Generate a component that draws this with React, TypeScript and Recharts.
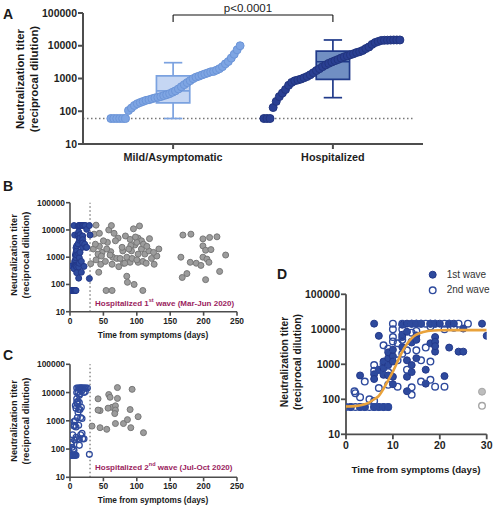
import React from "react";
import {
  ComposedChart,
  Scatter,
  Line,
  XAxis,
  YAxis,
  ReferenceLine,
  ReferenceArea,
} from "recharts";

// --- panel A: sorted titers per group ---
const groups = ["Mild/Asymptomatic", "Hospitalized"];
const mildTiters = [
  60, 60, 60, 60, 60, 60, 105, 125, 150, 170, 185, 200, 215, 225, 240, 255, 265,
  280, 300, 320, 345, 380, 420, 480, 560, 650, 750, 860, 990, 1100, 1180, 1280,
  1380, 1480, 1600, 1650, 1800, 2000, 2300, 2800, 3300, 4200, 5500, 7500, 10000,
];
const hospTiters = [
  60, 60, 60, 130, 200, 280, 360, 460, 620, 760, 850, 900, 960, 1050, 1150, 1300,
  1500, 1750, 2000, 2300, 2600, 2900, 3200, 3500, 3800, 4200, 4600, 4900, 5300,
  5700, 6200, 6600, 7200, 8200, 9200, 11000, 12500, 13500, 14500, 14700, 14800,
  14900, 15000, 15000, 15000,
];
// min, q1, median, q3, max
const mildBox = [60, 180, 420, 1200, 3040];
const hospBox = [260, 945, 3250, 6900, 15000];
const pValue = "p<0.0001";
const detectionLimit = 60;

// --- panels B-D: [days, titer] ---
const wave1 = [
  [1, 60], [3, 60], [4, 60], [6, 60], [7, 60], [8, 60], [9, 60],
  [3, 480], [6, 520], [6, 380], [6, 14500], [7, 6500],
  [7, 700], [8, 780], [8, 1200], [8, 500], [9, 1500], [9, 2200], [9, 480], [9, 950],
  [10, 1700], [10, 1200], [10, 440], [10, 270], [10, 2600],
  [12, 3100], [12, 6000], [12, 13500], [12, 7000],
  [13, 1300], [13, 440], [13, 170], [13, 14500], [13, 8500],
  [14, 950], [14, 600], [14, 4200], [14, 14500],
  [15, 14500], [15, 6700], [15, 1500], [15, 5000],
  [16, 14500], [17, 700], [17, 280], [18, 4000], [18, 14500],
  [19, 14500], [19, 6000], [19, 4400], [19, 2300], [19, 3300],
  [20, 14500], [21, 460], [22, 14500], [22, 3000], [23, 14500], [24, 2300],
  [25, 2300], [25, 10500], [29, 14500], [30, 6500],
];
const wave2 = [
  [0, 60], [1, 60], [2, 60], [3, 60], [4, 60], [5, 60], [6, 60], [7, 60], [8, 60], [9, 60],
  [2, 150], [1.8, 170], [3, 115], [4, 320], [5, 100], [6, 90],
  [6, 950], [6, 650], [7, 690], [7, 210], [8, 3500], [8, 1000], [9, 2800], [9, 260], [9, 600],
  [10, 14500], [10, 10000], [10, 6000], [10, 4500], [11, 4000], [11, 230], [11, 1300],
  [12, 14500], [12, 10000], [12, 2000], [12, 5000], [13, 2500], [13, 700],
  [14, 14500], [14, 4400], [14, 220], [14, 135], [14, 8000],
  [15, 2500], [15, 14500], [15, 9000], [16, 1300], [16, 320], [16, 14500],
  [17, 14500], [17, 3000], [18, 14500], [18, 1200], [18, 360], [18, 12000],
  [19, 230], [19, 14500], [21, 14500], [21, 230], [21, 10000], [22, 14500],
  [23, 11000], [24, 14500], [26, 14500],
];
const wave1Excluded = [[29, 165]];
const wave2Excluded = [[29, 65]];
const late1 = [
  [39, 15000], [36, 7000], [44, 7500], [58, 10000], [62, 14500], [66, 7500], [72, 5000],
  [83, 6000], [90, 4500], [95, 11000], [104, 14000], [102, 5000], [107, 4000], [119, 4800],
  [35, 2000], [44, 2500], [56, 3500], [61, 1600], [64, 1000], [70, 900], [79, 1700],
  [85, 1000], [92, 1700], [97, 2800], [91, 2700], [102, 1300], [107, 2000], [112, 1300],
  [118, 1700], [122, 900], [130, 1100], [133, 2000],
  [31, 580], [39, 800], [46, 550], [53, 700], [63, 550], [73, 450], [80, 600], [90, 650],
  [102, 650], [109, 700], [114, 600], [126, 550], [43, 280], [85, 200], [86, 120],
  [96, 100], [54, 60], [63, 60], [109, 60],
  [48, 1500], [42, 1300], [38, 3000], [50, 4000], [100, 3500], [68, 4000], [75, 900],
  [47, 1100], [55, 2000], [88, 2000], [93, 900], [98, 5500], [110, 3000], [115, 2500],
  [125, 1500], [100, 800], [82, 600], [60, 1200], [78, 2300],
  [169, 6500], [181, 7000], [166, 1000], [180, 650], [189, 600], [196, 500], [175, 250],
  [168, 180], [199, 4700], [209, 5300], [220, 5600], [199, 2600], [203, 1800], [211, 1900],
  [199, 1000], [205, 850], [208, 650], [233, 1200], [224, 300], [203, 150],
];
const late2 = [
  [71, 15000], [93, 13000], [42, 6000], [58, 8500], [60, 6800], [71, 6200], [63, 3000],
  [68, 3400], [57, 2800], [45, 2300], [42, 2400], [68, 2400], [67, 1800], [45, 570],
  [55, 500], [33, 650], [68, 800], [80, 800], [86, 1100], [91, 570], [102, 1400],
  [90, 2500], [110, 380],
];
// fitted sigmoid
const fitCurve = [
  [0, 62], [2, 64], [4, 72], [5, 82], [6, 100], [7, 125], [8, 200], [9, 350], [10, 620],
  [11, 1200], [12, 2300], [13, 3800], [14, 5500], [15, 7000], [16, 8000], [17, 8700],
  [18, 9100], [20, 9400], [22, 9500], [25, 9500], [30, 9500],
];

const LOG_TICKS = [10, 100, 1000, 10000, 100000];
const W = 496;
const H = 507;
const FONT = "'Liberation Sans', Arial, sans-serif";
const AXIS = "#4d4d4d";
const NAVY = "#2E4A9D";
const NAVY_EDGE = "#23388A";
const MAROON = "#9B1D5E";

const pts = (arr: number[][]) => arr.map(([x, y]) => ({ x, y }));
const rankPts = (titers: number[], start: number, end: number) =>
  titers.map((y, i) => ({ x: start + (i * (end - start)) / (titers.length - 1), y }));

const dot = (r: number, fill: string, stroke: string, sw = 1) => (p: any) =>
  <circle cx={p.cx} cy={p.cy} r={r} fill={fill} stroke={stroke} strokeWidth={sw} />;

const tickStyle = (size: number) => ({
  fill: "#1e1e1e",
  fontSize: size,
  fontWeight: 700,
  fontFamily: FONT,
});

const CENTERS = [26.5, 73.5];
const HALF = 4.9;
const CAP = 2.7;

function renderBox(cx: number, stats: number[], fill: string, stroke: string, key: string) {
  const [lo, q1, med, q3, hi] = stats;
  const ls = { stroke, strokeWidth: 1.7 };
  return [
    <ReferenceLine key={key + "w1"} segment={[{ x: cx, y: lo }, { x: cx, y: q1 }]} {...ls} />,
    <ReferenceLine key={key + "w2"} segment={[{ x: cx, y: q3 }, { x: cx, y: hi }]} {...ls} />,
    <ReferenceLine key={key + "c1"} segment={[{ x: cx - CAP, y: lo }, { x: cx + CAP, y: lo }]} {...ls} />,
    <ReferenceLine key={key + "c2"} segment={[{ x: cx - CAP, y: hi }, { x: cx + CAP, y: hi }]} {...ls} />,
    <ReferenceArea
      key={key + "b"}
      x1={cx - HALF}
      x2={cx + HALF}
      y1={q1}
      y2={q3}
      fill={fill}
      fillOpacity={0.68}
      stroke={stroke}
      strokeWidth={1.7}
    />,
    <ReferenceLine key={key + "m"} segment={[{ x: cx - HALF, y: med }, { x: cx + HALF, y: med }]} {...ls} />,
  ];
}

const abs: React.CSSProperties = { position: "absolute", left: 0, top: 0 };

function Txt({ x, y, size, bold = true, color = "#1a1a1a", rotate = false, align = "center", children }: any) {
  const tx = align === "left" ? "0" : "-50%";
  return (
    <div
      style={{
        position: "absolute",
        left: x,
        top: y,
        transform: `translate(${tx},-50%)${rotate ? " rotate(-90deg)" : ""}`,
        fontSize: size,
        fontWeight: bold ? 700 : 400,
        color,
        whiteSpace: "nowrap",
        textAlign: "center",
        lineHeight: 1.25,
        fontFamily: FONT,
      }}
    >
      {children}
    </div>
  );
}

function PanelA() {
  return (
    <div style={abs}>
      <ComposedChart width={W} height={H} margin={{ top: 13, right: 73, bottom: 333, left: 33 }}>
        <XAxis
          type="number"
          dataKey="x"
          domain={[0, 100]}
          ticks={CENTERS}
          interval={0}
          allowDataOverflow
          height={30}
          tickSize={5}
          tickMargin={4}
          tickFormatter={(v: number) => (v < 50 ? groups[0] : groups[1])}
          axisLine={{ stroke: AXIS, strokeWidth: 2 }}
          tickLine={{ stroke: AXIS, strokeWidth: 2 }}
          tick={tickStyle(10.8)}
        />
        <YAxis
          type="number"
          dataKey="y"
          scale="log"
          domain={[10, 100000]}
          ticks={LOG_TICKS}
          interval={0}
          allowDataOverflow
          width={50}
          tickSize={5}
          tickMargin={1}
          axisLine={{ stroke: AXIS, strokeWidth: 2 }}
          tickLine={{ stroke: AXIS, strokeWidth: 2 }}
          tick={tickStyle(10.5)}
        />
        <ReferenceLine
          segment={[{ x: 0, y: detectionLimit }, { x: 97, y: detectionLimit }]}
          stroke="#777"
          strokeDasharray="1.5 2.5"
          strokeWidth={1.3}
        />
        <ReferenceLine segment={[{ x: CENTERS[0], y: 53000 }, { x: CENTERS[0], y: 87000 }]} stroke="#111" strokeWidth={1.1} />
        <ReferenceLine segment={[{ x: CENTERS[0], y: 87000 }, { x: CENTERS[1], y: 87000 }]} stroke="#111" strokeWidth={1.1} />
        <ReferenceLine segment={[{ x: CENTERS[1], y: 53000 }, { x: CENTERS[1], y: 87000 }]} stroke="#111" strokeWidth={1.1} />
        <Scatter data={rankPts(mildTiters, 8.2, 46.2)} shape={dot(4, "#7EA5E3", "#6C95D8")} isAnimationActive={false} />
        <Scatter data={rankPts(hospTiters, 53.2, 93.2)} shape={dot(4, "#2A3F93", "#22357F")} isAnimationActive={false} />
        {renderBox(CENTERS[0], mildBox, "#A9C3EE", "#7BA2E0", "m")}
        {renderBox(CENTERS[1], hospBox, "#2E5AA7", "#203A8A", "h")}
      </ComposedChart>
    </div>
  );
}

function TimePanel({ top, bottom, blue, grayPts, open }: any) {
  return (
    <div style={abs}>
      <ComposedChart width={W} height={H} margin={{ top, right: 259, bottom, left: 30 }}>
        <XAxis
          type="number"
          dataKey="x"
          domain={[0, 250]}
          ticks={[0, 50, 100, 150, 200, 250]}
          interval={0}
          allowDataOverflow
          height={20}
          tickSize={4}
          tickMargin={2}
          axisLine={{ stroke: AXIS, strokeWidth: 1.6 }}
          tickLine={{ stroke: AXIS, strokeWidth: 1.6 }}
          tick={tickStyle(8.4)}
        />
        <YAxis
          type="number"
          dataKey="y"
          scale="log"
          domain={[10, 100000]}
          ticks={LOG_TICKS}
          interval={0}
          allowDataOverflow
          width={40}
          tickSize={4}
          tickMargin={1}
          axisLine={{ stroke: AXIS, strokeWidth: 1.6 }}
          tickLine={{ stroke: AXIS, strokeWidth: 1.6 }}
          tick={tickStyle(8.4)}
        />
        <ReferenceLine x={30} stroke="#777" strokeDasharray="1.5 2.5" strokeWidth={1.3} />
        <Scatter data={pts(grayPts)} shape={dot(3, "#9C9C9C", "#777")} isAnimationActive={false} />
        <Scatter
          data={pts(blue)}
          shape={open ? dot(2.9, "none", NAVY, 1.3) : dot(3, NAVY, NAVY_EDGE)}
          isAnimationActive={false}
        />
      </ComposedChart>
    </div>
  );
}

const D_MARGIN = { top: 294.3, right: 9.3, bottom: 52.7, left: 301 };

function dAxes(hide: boolean) {
  return [
    <XAxis
      key="x"
      type="number"
      dataKey="x"
      domain={[0, 30]}
      ticks={[0, 10, 20, 30]}
      interval={0}
      allowDataOverflow
      height={20}
      tickSize={5}
      tickMargin={2}
      axisLine={hide ? false : { stroke: AXIS, strokeWidth: 1.8 }}
      tickLine={hide ? false : { stroke: AXIS, strokeWidth: 1.8 }}
      tick={hide ? false : tickStyle(10.5)}
    />,
    <YAxis
      key="y"
      type="number"
      dataKey="y"
      scale="log"
      domain={[10, 100000]}
      ticks={LOG_TICKS}
      interval={0}
      allowDataOverflow
      width={45}
      tickSize={5}
      tickMargin={1}
      axisLine={hide ? false : { stroke: AXIS, strokeWidth: 1.8 }}
      tickLine={hide ? false : { stroke: AXIS, strokeWidth: 1.8 }}
      tick={hide ? false : tickStyle(10.5)}
    />,
  ];
}

function PanelD() {
  return (
    <>
      <div style={abs}>
        <ComposedChart width={W} height={H} margin={D_MARGIN}>
          {dAxes(false)}
          <Scatter data={pts(wave1)} shape={dot(3.5, NAVY, NAVY_EDGE)} isAnimationActive={false} />
          <Scatter data={pts(wave2)} shape={dot(3.3, "none", NAVY, 1.4)} isAnimationActive={false} />
          <Scatter data={pts(wave1Excluded)} shape={dot(3.5, "#BDBDBD", "#A5A5A5")} isAnimationActive={false} />
          <Scatter data={pts(wave2Excluded)} shape={dot(3.3, "none", "#A5A5A5", 1.4)} isAnimationActive={false} />
        </ComposedChart>
      </div>
      {/* fitted curve drawn on its own layer so it sits above the dots */}
      <div style={abs}>
        <ComposedChart width={W} height={H} margin={D_MARGIN}>
          {dAxes(true)}
          <Line
            data={pts(fitCurve)}
            dataKey="y"
            type="monotone"
            stroke="#E9A23B"
            strokeWidth={2.6}
            dot={false}
            isAnimationActive={false}
          />
        </ComposedChart>
      </div>
    </>
  );
}

export default function App() {
  return (
    <div style={{ position: "absolute", left: 0, top: 0, width: W, height: H, background: "#fff", overflow: "hidden", fontFamily: FONT }}>
      <PanelA />
      <TimePanel top={202.7} bottom={175.3} blue={[...wave1, ...wave1Excluded]} grayPts={late1} open={false} />
      <TimePanel top={364.3} bottom={9.7} blue={[...wave2, ...wave2Excluded]} grayPts={late2} open />
      <PanelD />

      <Txt x={3} y={15} size={14} align="left">A</Txt>
      <Txt x={3} y={187} size={14} align="left">B</Txt>
      <Txt x={3} y={356} size={14} align="left">C</Txt>
      <Txt x={277} y={275} size={14} align="left">D</Txt>

      <Txt x={248} y={8} size={11.5} bold={false} color="#222">{pValue}</Txt>

      <Txt x={26.5} y={78.5} size={11.4} rotate>
        Neutralization titer<br />(reciprocal dilution)
      </Txt>
      <Txt x={21} y={255} size={9.3} rotate>
        Neutralization titer<br />(reciprocal dilution)
      </Txt>
      <Txt x={21} y={421} size={9.3} rotate>
        Neutralization titer<br />(reciprocal dilution)
      </Txt>
      <Txt x={291.5} y={362} size={10.3} rotate>
        Neutralization titer<br />(reciprocal dilution)
      </Txt>

      <Txt x={153} y={335} size={8.3}>Time from symptoms (days)</Txt>
      <Txt x={153} y={500} size={8.3}>Time from symptoms (days)</Txt>
      <Txt x={416} y={470} size={9.7}>Time from symptoms (days)</Txt>

      <Txt x={95} y={303} size={8} color={MAROON} align="left">
        Hospitalized 1<sup style={{ fontSize: 5.5 }}>st</sup> wave (Mar-Jun 2020)
      </Txt>
      <Txt x={95} y={467} size={8} color={MAROON} align="left">
        Hospitalized 2<sup style={{ fontSize: 5.5 }}>nd</sup> wave (Jul-Oct 2020)
      </Txt>

      <svg style={{ position: "absolute", left: 0, top: 0 }} width={W} height={H} pointerEvents="none">
        <circle cx={432.7} cy={274.7} r={3.5} fill={NAVY} stroke={NAVY_EDGE} />
        <circle cx={432.7} cy={290.3} r={3.3} fill="none" stroke={NAVY} strokeWidth={1.4} />
      </svg>
      <Txt x={446.7} y={274.7} size={10} bold={false} color="#333" align="left">1st wave</Txt>
      <Txt x={446.7} y={290.3} size={10} bold={false} color="#333" align="left">2nd wave</Txt>
    </div>
  );
}
